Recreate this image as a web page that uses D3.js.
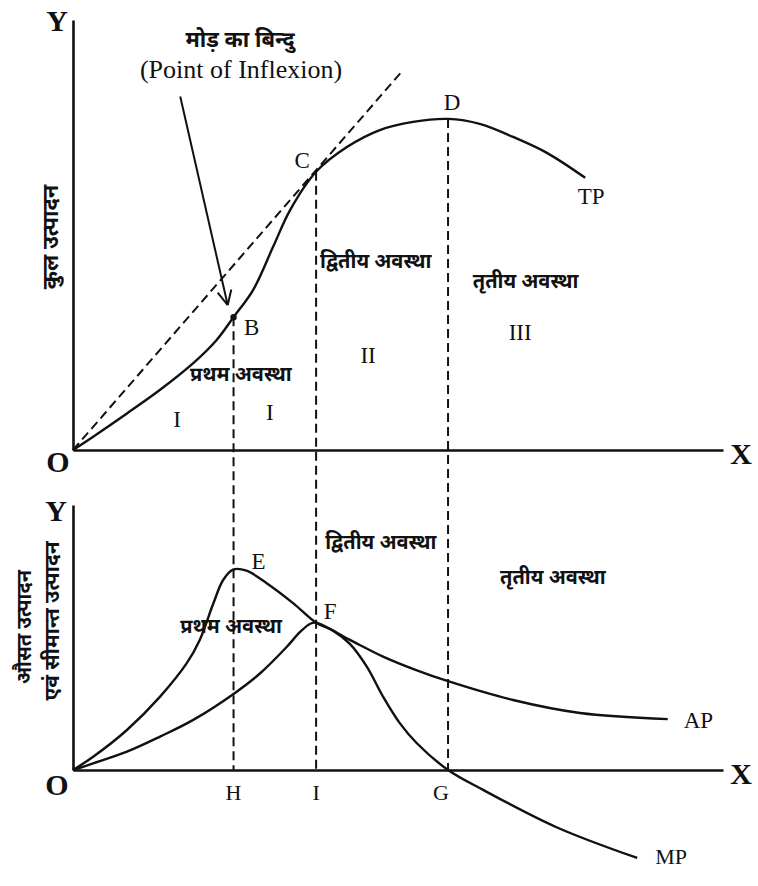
<!DOCTYPE html>
<html lang="hi">
<head>
<meta charset="utf-8">
<script src="https://d3js.org/d3.v7.min.js"></script>
<style>
  body { margin: 0; background: #fff; }
  .lat { font-family: "Liberation Serif", "Times New Roman", serif; fill: #111; }
  .hin { font-family: "Noto Sans", "Lato", sans-serif; fill: #111; font-weight: bold; }
</style>
</head>
<body>
<svg width="758" height="886"></svg>
<script>
// ---- data (x = labour units 0..100) ----
var tpX = [0, 3.1, 8.3, 13.4, 18.5, 22.1, 24.7, 27.7, 30.8, 33.4, 37.4, 42.2, 47.2, 52.3, 57.7, 62.7, 67.7, 72.9, 78.8];
var tpY = [0, 3.1, 8.5, 14.0, 20.2, 25.6, 30.9, 37.2, 47.3, 55.8, 64.7, 70.5, 74.4, 76.3, 77.0, 75.8, 72.8, 69.1, 63.3];

var tangentX = [0, 50.8];
var tangentY = [0, 88.4];

var mpX = [0, 3.1, 8.3, 13.4, 17.5, 19.5, 21.6, 23.1, 24.7, 26.7, 29.8, 33.9, 37.4, 40.0, 42.6, 45.2, 47.7, 50.3, 52.9, 57.7, 63.1, 74.3, 86.8];
var mpY = [0, 5.0, 15.1, 27.7, 40.3, 49.1, 62.9, 71.7, 75.7, 75.2, 70.5, 62.9, 55.6, 52.6, 47.6, 39.0, 27.7, 17.6, 10.1, 0, -7.5, -21.5, -33.2];

var apX = [0, 3.1, 8.3, 13.4, 18.5, 24.7, 28.8, 32.9, 34.9, 36.5, 37.4, 42.6, 47.7, 52.8, 57.7, 67.7, 78.0, 91.5];
var apY = [0, 2.5, 6.9, 12.6, 18.9, 28.7, 36.5, 46.5, 52.0, 55.2, 55.6, 49.1, 42.8, 37.7, 33.5, 26.4, 21.5, 19.2];

// stage boundaries (B/H, C/I, D/G)
var stageX = [24.7, 37.4, 57.7];
var stageTop = [30.9, 64.7, 77.0];
var botNames = ['H', 'I', 'G'];

var stage1 = 'प्रथम अवस्था', stage2 = 'द्वितीय अवस्था', stage3 = 'तृतीय अवस्था';
var topStageLabels = [
  {t: stage1, x: 18.0, y: 16.0}, {t: stage2, x: 38.0, y: 42.3}, {t: stage3, x: 61.5, y: 37.7}
];
var topRoman = [
  {t: 'I', x: 16.0, y: 5.3}, {t: 'I', x: 30.3, y: 7.0}, {t: 'II', x: 45.4, y: 20.2}, {t: 'III', x: 68.8, y: 25.6}
];
var botStageLabels = [
  {t: stage1, x: 16.5, y: 51.7}, {t: stage2, x: 38.8, y: 83.4}, {t: stage3, x: 65.7, y: 70.2}
];

var svg = d3.select('svg');
var x = d3.scaleLinear().domain([0, 100]).range([73, 723]);
var yTop = d3.scaleLinear().domain([0, 100]).range([450, 20]);
var yBot = d3.scaleLinear().domain([0, 100]).range([770, 505]);

function pts(xs, ys) { return xs.map(function(v, i) { return [v, ys[i]]; }); }

// axes
function drawAxes(ys) {
  svg.append('g').attr('transform', 'translate(0,' + ys(0) + ')')
    .call(d3.axisBottom(x).tickValues([]).tickSizeOuter(0))
    .select('.domain').attr('stroke', '#111').attr('stroke-width', 2.6);
  svg.append('g').attr('transform', 'translate(' + x(0) + ',0)')
    .call(d3.axisLeft(ys).tickValues([]).tickSizeOuter(0))
    .select('.domain').attr('stroke', '#111').attr('stroke-width', 2.6);
}
drawAxes(yTop);
drawAxes(yBot);

// dashed stage lines through both panels
svg.append('g').selectAll('line').data(stageX).enter().append('line')
  .attr('x1', function(d) { return x(d); }).attr('x2', function(d) { return x(d); })
  .attr('y1', function(d, i) { return yTop(stageTop[i]); })
  .attr('y2', yBot(0))
  .attr('stroke', '#111').attr('stroke-width', 2).attr('stroke-dasharray', '9,5');

// tangent
svg.append('path').datum(pts(tangentX, tangentY))
  .attr('d', d3.line().x(function(d) { return x(d[0]); }).y(function(d) { return yTop(d[1]); }))
  .attr('fill', 'none').attr('stroke', '#111').attr('stroke-width', 2).attr('stroke-dasharray', '9,5');

// curves
var lineTop = d3.line().curve(d3.curveCatmullRom.alpha(0.5))
  .x(function(d) { return x(d[0]); }).y(function(d) { return yTop(d[1]); });
var lineBot = d3.line().curve(d3.curveCatmullRom.alpha(0.5))
  .x(function(d) { return x(d[0]); }).y(function(d) { return yBot(d[1]); });

svg.append('path').datum(pts(tpX, tpY)).attr('d', lineTop)
  .attr('fill', 'none').attr('stroke', '#111').attr('stroke-width', 2.4);
svg.append('path').datum(pts(mpX, mpY)).attr('d', lineBot)
  .attr('fill', 'none').attr('stroke', '#111').attr('stroke-width', 2.4);
svg.append('path').datum(pts(apX, apY)).attr('d', lineBot)
  .attr('fill', 'none').attr('stroke', '#111').attr('stroke-width', 2.4);

// point B dot
svg.append('circle').attr('cx', x(stageX[0])).attr('cy', yTop(stageTop[0])).attr('r', 3.2).attr('fill', '#111');

// arrow to inflexion point
var ax0 = x(16.5), ay0 = yTop(82.2), ax1 = x(23.8), ay1 = yTop(33.7);
svg.append('line').attr('x1', ax0).attr('y1', ay0).attr('x2', ax1).attr('y2', ay1)
  .attr('stroke', '#111').attr('stroke-width', 2);
var ang = Math.atan2(ay1 - ay0, ax1 - ax0);
[0.45, -0.45].forEach(function(o) {
  svg.append('line').attr('x1', ax1).attr('y1', ay1)
    .attr('x2', ax1 - 16 * Math.cos(ang + o)).attr('y2', ay1 - 16 * Math.sin(ang + o))
    .attr('stroke', '#111').attr('stroke-width', 2);
});

// text helpers
function txt(cls, t, px, py, size, anchor, weight) {
  return svg.append('text').attr('class', cls).attr('x', px).attr('y', py)
    .attr('font-size', size).attr('text-anchor', anchor || 'middle')
    .attr('font-weight', weight || null).text(t);
}

// axis letters
txt('lat', 'Y', x(0) - 16, yTop(100) + 11, 30, 'middle', 'bold');
txt('lat', 'O', x(0) - 15, yTop(0) + 22, 30, 'middle', 'bold');
txt('lat', 'X', x(100) + 18, yTop(0) + 14, 30, 'middle', 'bold');
txt('lat', 'Y', x(0) - 17, yBot(100) + 16, 30, 'middle', 'bold');
txt('lat', 'O', x(0) - 16, yBot(0) + 25, 30, 'middle', 'bold');
txt('lat', 'X', x(100) + 18, yBot(0) + 14, 30, 'middle', 'bold');

// inflexion title
txt('hin', 'मोड़ का बिन्दु', 240, 47, 22);
txt('lat', '(Point of Inflexion)', 241, 78, 26);

// point letters
txt('lat', 'B', x(stageX[0]) + 18, yTop(stageTop[0]) + 18, 23);
txt('lat', 'C', x(stageX[1]) - 14, yTop(stageTop[1]) - 4, 23);
txt('lat', 'D', x(stageX[2]) + 4, yTop(stageTop[2]) - 9, 23);
txt('lat', 'TP', x(tpX[tpX.length - 1]) + 6, yTop(tpY[tpY.length - 1]) + 26, 23);
txt('lat', 'E', x(mpX[8]) + 25, yBot(mpY[8]) + 0, 23);
txt('lat', 'F', x(apX[10]) + 14, yBot(apY[10]) - 4, 23);
txt('lat', 'AP', x(apX[apX.length - 1]) + 16, yBot(apY[apY.length - 1]) + 9, 23, 'start');
txt('lat', 'MP', x(mpX[mpX.length - 1]) + 18, yBot(mpY[mpY.length - 1]) + 6, 22, 'start');
botNames.forEach(function(n, i) {
  txt('lat', n, x(stageX[i]) - (i === 2 ? 7 : 0), yBot(0) + 30, 22);
});

// stage labels
topStageLabels.forEach(function(d) { txt('hin', d.t, x(d.x), yTop(d.y), 20, 'start'); });
botStageLabels.forEach(function(d) { txt('hin', d.t, x(d.x), yBot(d.y), 20, 'start'); });
topRoman.forEach(function(d) { txt('lat', d.t, x(d.x), yTop(d.y), 23); });

// y axis titles
svg.append('text').attr('class', 'hin').attr('transform', 'translate(58,237) rotate(-90)')
  .attr('text-anchor', 'middle').attr('font-size', 22).text('कुल उत्पादन');
svg.append('text').attr('class', 'hin').attr('transform', 'translate(31,627) rotate(-90)')
  .attr('text-anchor', 'middle').attr('font-size', 20).text('औसत उत्पादन');
svg.append('text').attr('class', 'hin').attr('transform', 'translate(59,621) rotate(-90)')
  .attr('text-anchor', 'middle').attr('font-size', 21).text('एवं सीमान्त उत्पादन');
</script>
</body>
</html>
